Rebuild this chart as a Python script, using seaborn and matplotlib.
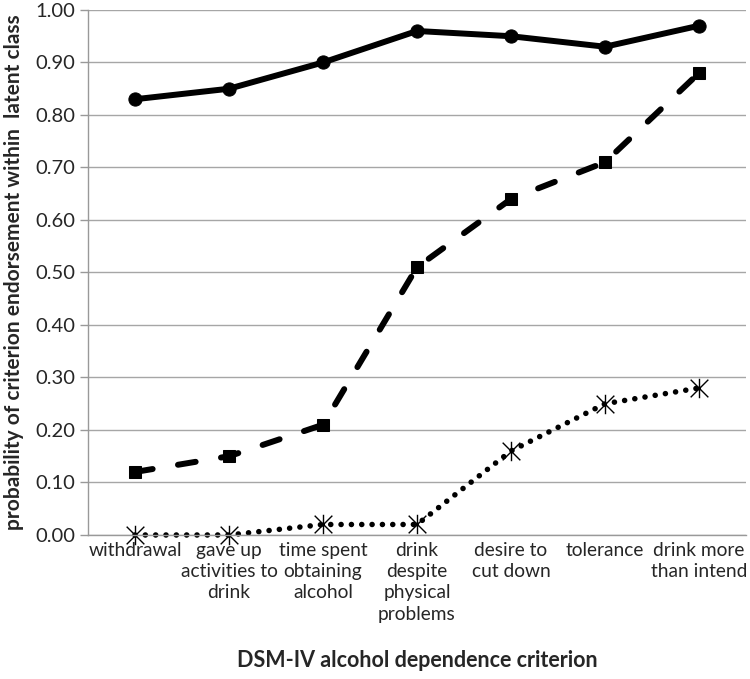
import pandas as pd
import matplotlib.pyplot as plt
import seaborn as sns
import numpy as np
from matplotlib.path import Path


criteria = ["withdrawal", "gave up\nactivities to\ndrink", "time spent\nobtaining\nalcohol",
            "drink\ndespite\nphysical\nproblems", "desire to\ncut down", "tolerance",
            "drink more\nthan intend"]
class_high = [0.83, 0.85, 0.90, 0.96, 0.95, 0.93, 0.97]
class_mid = [0.12, 0.15, 0.21, 0.51, 0.64, 0.71, 0.88]
class_low = [0.00, 0.00, 0.02, 0.02, 0.16, 0.25, 0.28]
yticks = [0.0, 0.1, 0.2, 0.3, 0.4, 0.5, 0.6, 0.7, 0.8, 0.9, 1.0]

sns.set_style("white")
plt.rcParams['font.family'] = ['Lato', 'DejaVu Sans']

fig = plt.figure(figsize=(7.5, 6.79), dpi=100)
ax = fig.add_axes([0.1173, 0.2121, 0.8774, 0.7732])

# asterisk marker: X plus vertical bar
star = Path([(-1, -1), (1, 1), (-1, 1), (1, -1), (0, -1.1), (0, 1.1)],
            [Path.MOVETO, Path.LINETO, Path.MOVETO, Path.LINETO, Path.MOVETO, Path.LINETO])

x = np.arange(len(criteria))

sns.lineplot(x=x, y=class_high, ax=ax, color='black', lw=4.3, marker='o', markersize=9.5,
             markeredgecolor='black', solid_capstyle='round', clip_on=False)
sns.lineplot(x=x, y=class_mid, ax=ax, color='black', lw=4.3, marker='s', markersize=8,
             markeredgecolor='black', linestyle=(0, (3.0, 4.3)), dash_capstyle='round',
             clip_on=False)
sns.lineplot(x=x, y=class_low, ax=ax, color='black', lw=4.0, linestyle=(0, (0.01, 1.85)),
             dash_capstyle='round', clip_on=False)
sns.lineplot(x=x, y=class_low, ax=ax, color='black', lw=0, marker=star, markersize=14,
             markeredgewidth=1.0, markerfacecolor='none', markeredgecolor='black', clip_on=False)

ax.set_xlim(-0.5, 6.5)
ax.set_ylim(0, 1.0)
ax.set_yticks(yticks)
ax.set_yticklabels([f"{v:.2f}" for v in yticks], fontsize=14.5)
ax.set_xticks(x)
ax.set_xticklabels(criteria, fontsize=13.8, linespacing=1.3)
ax.tick_params(axis='x', length=0, pad=5)
ax.tick_params(axis='y', length=6, width=1, color='#999999', direction='out', pad=3, left=True)
ax.grid(axis='y', color='#a6a6a6', lw=1)
ax.set_axisbelow(True)

for s in ['top', 'right']:
    ax.spines[s].set_visible(False)
for s in ['left', 'bottom']:
    ax.spines[s].set_color('#999999')
    ax.spines[s].set_linewidth(1)

ax.set_ylabel("probability of criterion endorsement within  latent class", fontsize=15,
              fontweight='bold', labelpad=8)
ax.set_xlabel("DSM-IV alcohol dependence criterion", fontsize=15.5, fontweight='bold', labelpad=20)

fig.savefig("out.png", dpi=100)
